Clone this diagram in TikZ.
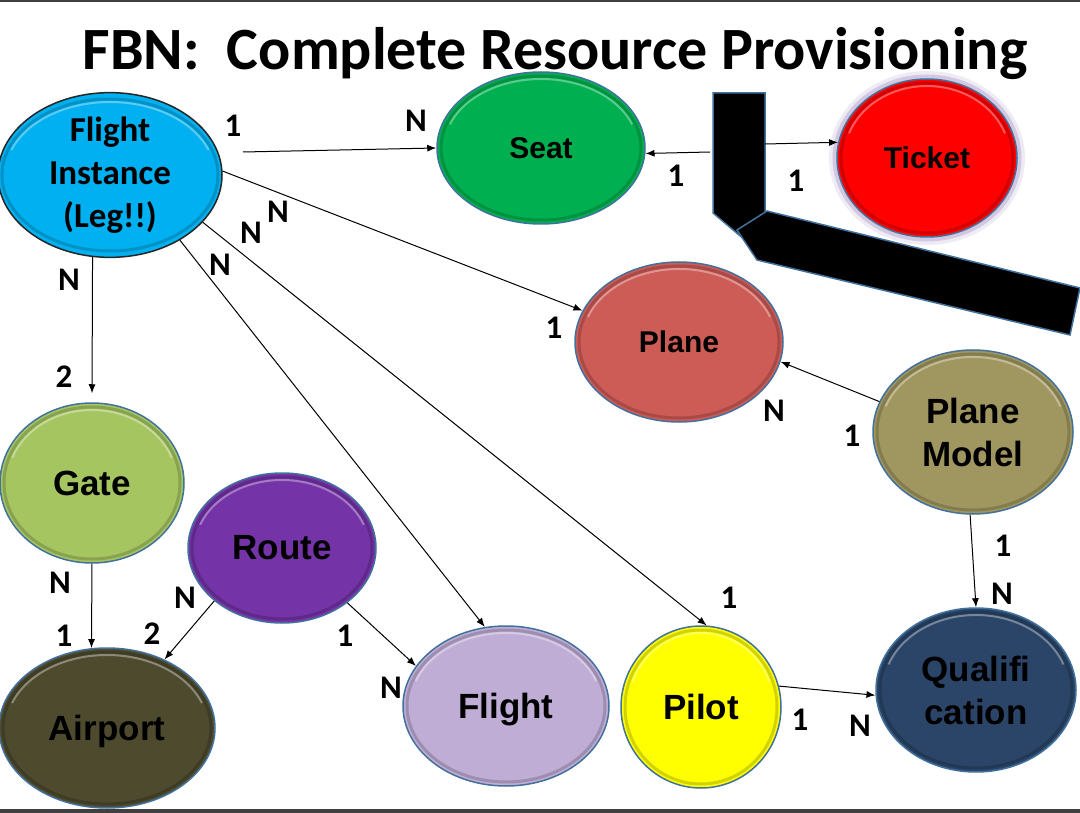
\documentclass[tikz,border=0pt]{standalone}
\usepackage{fontspec}
\setmainfont{Liberation Sans}
\newfontfamily\calib{Carlito}
\usetikzlibrary{shapes.geometric,arrows.meta}
\definecolor{bord}{HTML}{41719C}
\definecolor{cFI}{HTML}{00B0F0}
\definecolor{cSeat}{HTML}{00B050}
\definecolor{cTicket}{HTML}{FF0000}
\definecolor{cPlane}{HTML}{CD5B56}
\definecolor{cPM}{HTML}{A0965F}
\definecolor{cGate}{HTML}{A5C561}
\definecolor{cRoute}{HTML}{7433A6}
\definecolor{cAirport}{HTML}{4D4A2E}
\definecolor{cFlight}{HTML}{BFADD6}
\definecolor{cPilot}{HTML}{FFFF00}
\definecolor{cQual}{HTML}{2A4568}
\definecolor{glowc}{HTML}{7F62AA}
\definecolor{frame}{HTML}{404040}
\begin{document}
\begin{tikzpicture}[x=1pt,y=-1pt,
  ent/.style n args={3}{ellipse, inner sep=0pt, minimum width=2*#2, minimum height=2*#3,
    fill=#1, draw=bord, line width=1.5pt, text=black, align=center,
    path picture={
      \draw[line width=3pt, draw=#1!75!black, opacity=.7] (path picture bounding box.center) ellipse [x radius=#2-4, y radius=#3-4];
      \draw[line width=2pt, white, opacity=.35] (path picture bounding box.center) ++({(#2-7)*cos(200)},{(#3-7)*sin(200)}) arc[start angle=200, end angle=340, x radius=#2-7, y radius=#3-7];
    }},
  big/.style={font=\bfseries\fontsize{35}{43}\selectfont},
  med/.style={font=\bfseries\fontsize{30}{36}\selectfont},
  lab/.style={font=\calib\bfseries\fontsize{33}{33}\selectfont, inner sep=0pt},
  arr/.style={line width=1pt, -{Latex[length=9pt,width=7pt]}},
  bar/.style={fill=black, draw=bord, line width=1.5pt, line join=miter}
]
\useasboundingbox (0,0) rectangle (1080,813);
\fill[white] (0,0) rectangle (1080,813);
\fill[frame] (0,0) rectangle (1080,2);
\fill[frame] (0,809) rectangle (1080,813);

% title
\node[font=\calib\bfseries\fontsize{60}{60}\selectfont, anchor=base, inner sep=0pt] (title) at (555,70) {FBN:\ \ Complete Resource Provisioning};

% entities
\node[ent={cFI}{112}{80}, draw=black!85, font=\calib\bfseries\fontsize{35}{43}\selectfont] (fi) at (110,175) {Flight\\Instance\\(Leg!!)};
\node[ent={cSeat}{104}{76}, med] (seat) at (541,148) {Seat};
\node[ent={cTicket}{90}{79}, med,
  preaction={draw=glowc, line width=16pt, opacity=.12},
  preaction={draw=glowc, line width=9pt, opacity=.25}] (ticket) at (927,158) {Ticket};
\node[ent={cPlane}{104}{80}, med] (plane) at (679,342) {Plane};
\node[ent={cPM}{100}{82}, big] (pm) at (973,432) {Plane\\Model};
\node[ent={cGate}{92}{80}, big] (gate) at (92,483) {Gate};
\node[ent={cRoute}{94}{75}, big] (route) at (282,548) {Route};
\node[ent={cAirport}{108}{80}, big, text depth=0pt] (airport) at (107,728) {Airport};
\node[ent={cFlight}{103}{80}, big, text depth=0pt] (flight) at (506,706) {Flight};
\node[ent={cPilot}{80}{81}, big] (pilot) at (701,707) {Pilot};
\node[ent={cQual}{100}{82}, big] (qual) at (976,690) {Qualifi\\cation};

% bent black arrow shape
\draw[bar] (713,93) -- (765,93) -- (765,215) -- (745,240) -- (713,213) -- cycle;
\draw[bar] (737,230) -- (767,211) -- (1080,288) -- (1070,335) -- (757,260) -- cycle;

% free ends
\coordinate (fis) at (243,152);
\coordinate (bl) at (710,152);
\coordinate (br) at (765,144);

% connectors
\draw[arr] (fis) -- (seat.180);
\draw[arr] (bl) -- (seat.-3);
\draw[arr] (br) -- (ticket.170);
\draw[arr] (fi.2) -- (plane.162);
\draw[arr, shorten >=9pt] (fi.-102) -- (gate.north);
\draw[arr] (fi.-43) -- (flight.105);
\draw[arr] (fi.-27) -- (pilot.86);
\draw[arr] (gate.south) -- (airport.101);
\draw[arr] (route.218) -- (airport.50);
\draw[arr] (route.-40) -- (flight.156);
\draw[arr] (pm.162) -- (plane.-11);
\draw[arr] (pm.-92) -- (qual.north);
\draw[arr] (pilot.15) -- (qual.183);

% cardinality labels
\node[lab] (l1) at (233,126) {1};
\node[lab] (l2) at (416,121) {N};
\node[lab] (l3) at (676,176) {1};
\node[lab] (l4) at (796,181) {1};
\node[lab] (l5) at (278,212) {N};
\node[lab] (l6) at (251,233) {N};
\node[lab] (l7) at (220,265) {N};
\node[lab] (l8) at (69,280) {N};
\node[lab] (l9) at (554,328) {1};
\node[lab] (l10) at (64,377) {2};
\node[lab] (l11) at (774,411) {N};
\node[lab] (l12) at (852,436) {1};
\node[lab] (l13) at (60,583) {N};
\node[lab] (l14) at (64,636) {1};
\node[lab] (l15) at (185,598) {N};
\node[lab] (l16) at (152,634) {2};
\node[lab] (l17) at (345,636) {1};
\node[lab] (l18) at (391,688) {N};
\node[lab] (l19) at (1003,546) {1};
\node[lab] (l20) at (1002,594) {N};
\node[lab] (l21) at (729,598) {1};
\node[lab] (l22) at (800,720) {1};
\node[lab] (l23) at (860,726) {N};
\end{tikzpicture}
\end{document}
